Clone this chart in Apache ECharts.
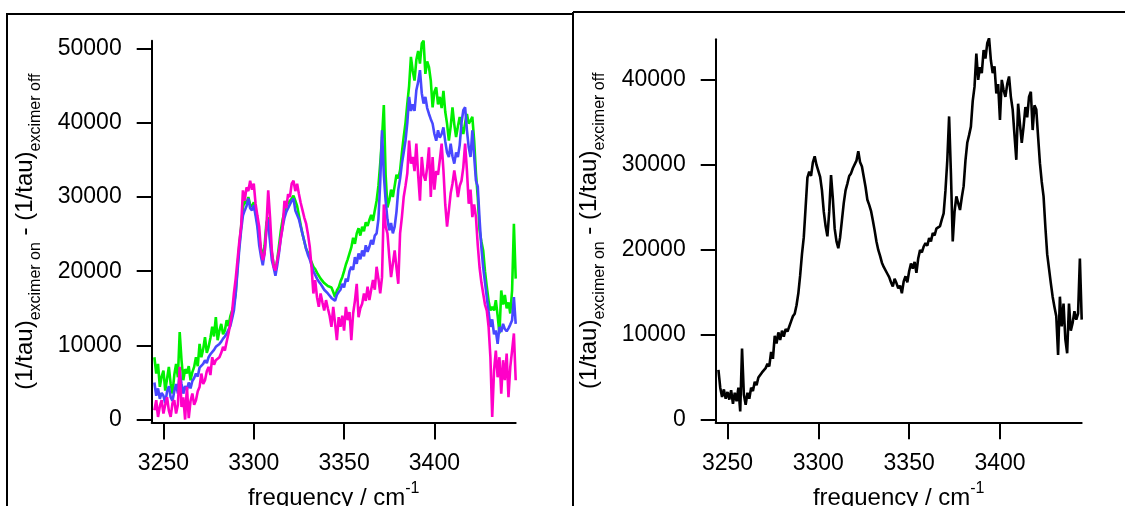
<!DOCTYPE html>
<html><head><meta charset="utf-8">
<script src="https://cdn.jsdelivr.net/npm/echarts@6/dist/echarts.min.js"></script>
<style>html,body{margin:0;padding:0;background:#fff}#c{width:1125px;height:506px}</style>
</head><body><div id="c"></div><script>
// frequency grid (cm^-1), shared by all traces
const freq = [
3245,3246,3247,3248,3249,3250,3251,3252,3253,3254,
3255,3256,3257,3258,3259,3260,3261,3262,3263,3264,
3265,3266,3267,3268,3269,3270,3271,3272,3273,3274,
3275,3276,3277,3278,3279,3280,3281,3282,3283,3284,
3285,3286,3287,3288,3289,3290,3291,3292,3293,3294,
3295,3296,3297,3298,3299,3300,3301,3302,3303,3304,
3305,3306,3307,3308,3309,3310,3311,3312,3313,3314,
3315,3316,3317,3318,3319,3320,3321,3322,3323,3324,
3325,3326,3327,3328,3329,3330,3331,3332,3333,3334,
3335,3336,3337,3338,3339,3340,3341,3342,3343,3344,
3345,3346,3347,3348,3349,3350,3351,3352,3353,3354,
3355,3356,3357,3358,3359,3360,3361,3362,3363,3364,
3365,3366,3367,3368,3369,3370,3371,3372,3373,3374,
3375,3376,3377,3378,3379,3380,3381,3382,3383,3384,
3385,3386,3387,3388,3389,3390,3391,3392,3393,3394,
3395,3396,3397,3398,3399,3400,3401,3402,3403,3404,
3405,3406,3407,3408,3409,3410,3411,3412,3413,3414,
3415,3416,3417,3418,3419,3420,3421,3422,3423,3424,
3425,3426,3427,3428,3429,3430,3431,3432,3433,3434,
3435,3436,3437,3438,3439,3440,3441,3442,3443,3444,
3445];

// left panel traces
const greenVals = [
8400,6200,7500,4400,5800,6600,3900,5500,7100,4800,
3500,6000,7500,5700,11800,8000,5300,6800,6200,7200,
5300,6400,7100,8400,7200,10200,8400,9500,11100,9000,
9800,11000,12500,11200,13800,10700,12000,12900,11500,12000,
13400,12600,13900,14700,15500,17000,20600,23500,26000,28600,
29500,29100,30000,29000,28700,29300,28000,26500,24500,23000,
21900,23500,26500,27300,24500,22500,21000,20100,21500,23500,
25500,27000,28000,28800,29200,29500,29800,30200,29500,28800,
27500,26200,25000,24000,23000,22500,21900,21200,20600,20300,
19800,19400,19000,18800,18400,18600,18000,17900,17800,17200,
16500,17400,17800,18600,19200,20000,20900,21600,22400,23200,
24500,23700,25100,25800,24800,26000,25400,26600,26100,26900,
27600,26800,28200,29500,31500,34500,38000,42400,33000,28600,
29500,31000,30000,31500,33000,32500,33600,36000,38100,40000,
42600,45000,48900,47000,45700,48500,49700,48000,50700,51100,
46600,48300,47500,45700,42100,44200,44800,42500,43500,42000,
44300,41500,39900,37600,39500,42100,39800,38100,39500,40800,
39500,38500,40000,41200,39900,40300,40800,37600,33200,30000,
25500,24000,22800,20000,17900,16000,14700,15200,14700,16100,
14000,11600,17400,15500,16800,15000,15800,14300,17400,26400,
19000];

const blueVals = [
5000,3200,4200,2800,3600,3200,2200,3800,4500,3000,
2500,3800,4800,3500,6500,4800,3500,4500,4000,5000,
4200,5200,5600,6200,5800,7000,6800,7500,8000,7600,
8400,8800,9000,9400,9800,9600,10200,10500,10900,11200,
11600,11800,12600,13600,14700,17000,20000,23000,25500,27500,
28200,28800,29800,28500,28200,28900,27500,26000,23500,22000,
20800,22500,25500,27000,24000,21500,20500,19400,20800,22500,
24500,26000,27200,28000,28500,29000,29500,29800,28200,28000,
27000,26000,25000,24000,23000,22200,21600,20800,20000,19500,
19000,18600,18300,17900,17500,17300,17000,16800,16400,16500,
16000,16800,17200,17500,18300,17800,19000,18600,20000,20600,
20200,21900,21000,22400,21600,22800,22000,23500,22600,23300,
24200,23600,24800,25100,27000,32000,39000,33000,29500,27000,
25500,26500,25100,26000,28000,31000,32500,34500,36000,37600,
40000,43500,41600,42500,41600,44400,45500,47100,44000,42600,
43500,42000,41200,40500,39900,38500,37600,39000,38000,38500,
39400,37500,36000,35400,37200,35500,34500,36000,35400,37000,
40000,41700,42100,39000,36700,35400,39000,35500,32200,31400,
27000,23200,20500,18500,16500,14500,12500,13500,11500,12000,
10200,12500,11800,12900,12200,11900,12300,12800,13400,16500,
12900];

const magentaVals = [
1250,2600,350,1800,2600,800,2000,3000,1200,350,
2200,2600,800,2000,7100,1700,3000,0,4400,200,
2500,3500,2000,2600,3800,4400,6200,4800,5300,6500,
7100,6000,8400,7400,8000,7800,8400,9000,9800,9300,
10500,11600,12900,14500,17000,19000,21500,24000,26000,30900,
29500,31300,30800,32200,31000,31800,29100,27500,26000,22800,
21500,22400,26000,30900,27300,22800,20600,20100,21500,22800,
24500,26000,29500,28500,30400,30000,31800,32200,30800,31800,
30400,29200,28200,27200,26400,25000,23300,20500,17000,18800,
16500,15200,17000,15800,14700,16100,15000,14000,12500,15200,
13000,10700,13800,12500,14000,12000,15200,13400,14500,10700,
14300,16000,18300,13800,15000,15600,17000,16000,17900,16100,
17500,18800,17500,20600,19000,17000,19200,29000,26000,25100,
22000,19200,21000,22800,20500,18300,25100,27300,30000,31500,
33200,37600,34500,35400,33500,37200,33000,29500,35400,33000,
32200,34000,36700,30000,35400,31000,33500,33000,35000,37200,
33600,29000,26000,28200,30500,31800,33600,32000,30000,31500,
32200,34000,37200,33600,29100,31000,27300,29000,27300,23500,
20500,18500,17000,15500,14700,12500,8400,350,6600,9300,
5700,8400,3500,8000,5300,8900,3000,7100,9300,11600,
5300];

// right panel trace
const blackVals = [
5900,3800,2700,3600,2500,3300,2400,3500,1900,3200,
2200,3800,1000,8400,3000,1800,3200,2500,3800,3400,
4500,4100,5000,4800,5600,5400,6100,6600,6300,8000,
7200,9900,9000,10300,9400,10500,9800,10700,10400,11000,
11600,12200,12500,13500,14900,17000,19500,21500,25000,28500,
29200,28700,30300,31000,30000,30200,28600,27000,24500,22800,
21600,24500,28800,26000,22500,21000,20200,21500,23500,25500,
27000,27800,28700,29000,29600,29800,30500,31600,30300,29800,
28600,27400,25900,25300,24600,23500,22300,21000,20000,19300,
18500,18000,18200,17200,16800,16200,15700,16600,16100,15500,
15800,14900,16300,16900,16200,17500,18400,17800,18600,17300,
19000,20000,19700,20400,20800,20500,21400,21000,22000,21700,
22500,22300,22800,23600,24300,27000,30500,35700,29000,21000,
24500,26300,25500,24700,26200,27500,30500,32600,33500,34500,
37500,39200,43100,40000,41500,40800,43500,42500,44300,44900,
42300,40800,41600,38400,39500,35300,40000,38800,38000,39500,
40400,38000,36500,33500,30600,37200,34800,32600,34500,36800,
35600,38000,38600,34100,37000,36500,33300,30200,28000,26300,
22700,19500,17800,16100,14500,13300,12200,7650,14500,11000,
13700,9500,7850,13700,10500,11400,12800,11800,12500,19000,
11800];

const xTicks = [3250, 3300, 3350, 3400];
const yTicksLeft = [0, 10000, 20000, 30000, 40000, 50000];
const yTicksRight = [0, 10000, 20000, 30000, 40000];

const FONT = '"Liberation Sans", Arial, sans-serif';
const pairs = (f, v) => f.map((x, i) => [x, v[i]]);

const yName = '{m|(1/tau)}{s|excimer on}{m| - (1/tau)}{s|excimer off}';
const xName = '{m|frequency / cm}{p|-1}';
const richY = {
  m: {fontSize: 24, fontFamily: FONT, color: '#000', lineHeight: 36},
  s: {fontSize: 16, fontFamily: FONT, color: '#000', lineHeight: 16, verticalAlign: 'bottom'}
};
const richX = {
  m: {fontSize: 24, fontFamily: FONT, color: '#000', lineHeight: 36},
  p: {fontSize: 16, fontFamily: FONT, color: '#000', lineHeight: 16, verticalAlign: 'top'}
};

function xAxisCfg(gi) {
  return {
    type: 'value', gridIndex: gi, min: 3243.5, max: 3445,
    axisLine: {show: true, onZero: false, lineStyle: {color: '#000', width: 2}},
    axisTick: {show: true, length: 17, customValues: xTicks, lineStyle: {color: '#000', width: 2}},
    axisLabel: {show: true, customValues: xTicks, margin: 30, fontSize: 23, color: '#000', fontFamily: FONT,
      formatter: v => String(v)},
    splitLine: {show: false},
    name: xName, nameLocation: 'middle', nameGap: 45,
    nameTextStyle: {rich: richX}
  };
}
function yAxisCfg(gi, min, max, ticks) {
  return {
    type: 'value', gridIndex: gi, min: min, max: max,
    axisLine: {show: true, onZero: false, lineStyle: {color: '#000', width: 2}},
    axisTick: {show: true, length: 15, customValues: ticks, lineStyle: {color: '#000', width: 2}},
    axisLabel: {show: true, customValues: ticks, margin: 30, fontSize: 23, color: '#000', fontFamily: FONT,
      formatter: v => String(v)},
    splitLine: {show: false},
    name: yName, nameLocation: 'middle', nameRotate: 90, nameGap: 108,
    nameTextStyle: {rich: richY}
  };
}
function lineSeries(name, vals, color, gi) {
  return {
    name: name, type: 'line', xAxisIndex: gi, yAxisIndex: gi,
    data: pairs(freq, vals), showSymbol: false, symbol: 'none',
    lineStyle: {color: color, width: 2.6}, itemStyle: {color: color},
    emphasis: {disabled: true}, silent: true, animation: false
  };
}

const chart = echarts.init(document.getElementById('c'), null, {renderer: 'canvas'});
chart.setOption({
  animation: false,
  backgroundColor: '#fff',
  grid: [
    {left: 151.7, top: 40.7, width: 364, height: 381.8, outerBoundsMode: 'none', containLabel: false},
    {left: 715.7, top: 39.3, width: 366, height: 383, outerBoundsMode: 'none', containLabel: false}
  ],
  xAxis: [xAxisCfg(0), xAxisCfg(1)],
  yAxis: [
    yAxisCfg(0, -400, 51080, yTicksLeft),
    yAxisCfg(1, -270, 44770, yTicksRight)
  ],
  series: [
    lineSeries('green', greenVals, '#00f000', 0),
    lineSeries('blue', blueVals, '#4848ff', 0),
    lineSeries('magenta', magentaVals, '#ff00c8', 0),
    lineSeries('black', blackVals, '#000000', 1)
  ],
  graphic: [
    {type: 'line', silent: true, shape: {x1: 6, y1: 14, x2: 573, y2: 14}, style: {stroke: '#000', lineWidth: 2}},
    {type: 'line', silent: true, shape: {x1: 7, y1: 14, x2: 7, y2: 506}, style: {stroke: '#000', lineWidth: 2}},
    {type: 'line', silent: true, shape: {x1: 573, y1: 12, x2: 1125, y2: 12}, style: {stroke: '#000', lineWidth: 2}},
    {type: 'line', silent: true, shape: {x1: 573, y1: 12, x2: 573, y2: 506}, style: {stroke: '#000', lineWidth: 2}}
  ]
});
</script></body></html>
